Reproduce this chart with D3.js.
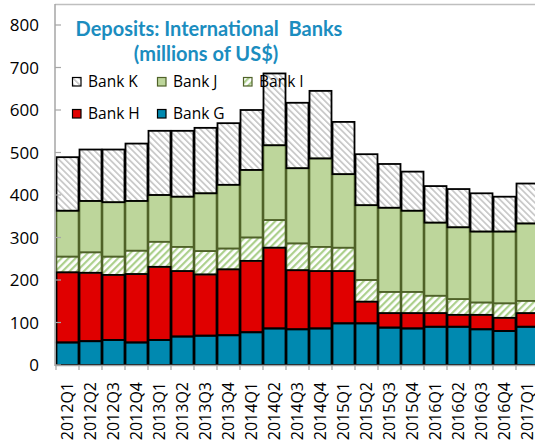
<!DOCTYPE html>
<html>
<head>
<meta charset="utf-8">
<script src="https://cdn.jsdelivr.net/npm/d3@7"></script>
<style>
html,body{margin:0;padding:0;background:#fff;}
svg{display:block;}
</style>
</head>
<body>
<svg id="chart" width="535" height="443"></svg>
<script>
const quarters = ["2012Q1","2012Q2","2012Q3","2012Q4","2013Q1","2013Q2","2013Q3","2013Q4",
  "2014Q1","2014Q2","2014Q3","2014Q4","2015Q1","2015Q2","2015Q3","2015Q4",
  "2016Q1","2016Q2","2016Q3","2016Q4","2017Q1"];
const bankG = [53,56,59,53,59,67,69,70,77,86,84,86,98,98,88,86,90,90,84,80,90];
const bankH = [165,161,153,161,172,154,144,155,168,190,139,135,123,51,34,36,32,28,34,31,32];
const bankI = [37,48,43,55,59,57,55,49,55,65,63,57,55,51,50,50,41,37,29,34,29];
const bankJ = [108,121,128,117,110,118,136,150,159,176,177,208,173,176,198,191,172,169,167,169,182];
const bankK = [126,121,124,135,151,155,154,145,141,169,154,159,123,120,103,92,86,90,90,82,94];
const yTicks = [0,100,200,300,400,500,600,700,800];
const seriesNames = ["Bank G","Bank H","Bank I","Bank J","Bank K"];

const svg = d3.select("#chart");
const defs = svg.append("defs");
function hatch(id, color, dir, w, sw){
  const p = defs.append("pattern").attr("id", id).attr("patternUnits","userSpaceOnUse")
    .attr("width",w).attr("height",w)
    .attr("patternTransform", "rotate(" + dir + ")");
  p.append("rect").attr("width",w).attr("height",w).attr("fill","#fff");
  p.append("rect").attr("x",0).attr("y",0).attr("width",sw).attr("height",w).attr("fill",color);
}
hatch("hatchK", "#c4c4c4", -45, 4.5, 1.6);
hatch("hatchI", "#acd08c", 45, 5, 2.2);

const styles = {
  "Bank G": {fill:"#0089b0", stroke:"#000"},
  "Bank H": {fill:"#e00000", stroke:"#000"},
  "Bank I": {fill:"url(#hatchI)", stroke:"#4f6228"},
  "Bank J": {fill:"#bdd69b", stroke:"#4f6228"},
  "Bank K": {fill:"url(#hatchK)", stroke:"#000"}
};

const rows = quarters.map((q,i)=>({q, "Bank G":bankG[i], "Bank H":bankH[i], "Bank I":bankI[i], "Bank J":bankJ[i], "Bank K":bankK[i]}));
const stacked = d3.stack().keys(seriesNames)(rows);

const x = d3.scaleBand().domain(quarters).range([56, 56 + 21*23]).padding(0);
const y = d3.scaleLinear().domain([0,800]).range([365,25]);

// frame top line
svg.append("line").attr("x1",55).attr("x2",535).attr("y1",4.5).attr("y2",4.5)
  .attr("stroke","#bfbfbf").attr("stroke-width",1.5);

// fills
const layers = svg.append("g");
stacked.forEach(s=>{
  layers.append("g").selectAll("rect").data(s).join("rect")
    .attr("x", d=>x(d.data.q)+0.5)
    .attr("y", d=>y(d[1]))
    .attr("width", x.bandwidth()-1)
    .attr("height", d=>y(d[0])-y(d[1]))
    .attr("fill", styles[s.key].fill);
});
// strokes: green first, then black
const strokeOrder = ["Bank I","Bank J","Bank G","Bank H","Bank K"];
strokeOrder.forEach(k=>{
  const s = stacked.find(t=>t.key===k);
  layers.append("g").selectAll("rect").data(s).join("rect")
    .attr("x", d=>x(d.data.q)+0.5)
    .attr("y", d=>y(d[1]))
    .attr("width", x.bandwidth()-1)
    .attr("height", d=>y(d[0])-y(d[1]))
    .attr("fill", "none")
    .attr("stroke", styles[k].stroke)
    .attr("stroke-width", k==="Bank I"||k==="Bank J" ? 1.6 : 1.8);
});

// y axis
const yAxis = svg.append("g");
yAxis.append("line").attr("x1",55).attr("x2",55).attr("y1",4).attr("y2",366)
  .attr("stroke","#a6a6a6").attr("stroke-width",1.5);
yAxis.selectAll("line.tk").data(yTicks).join("line").attr("class","tk")
  .attr("x1",55).attr("x2",61).attr("y1",d=>y(d)).attr("y2",d=>y(d))
  .attr("stroke","#a6a6a6").attr("stroke-width",1.2);
yAxis.selectAll("text").data(yTicks).join("text")
  .attr("x",39).attr("y",d=>y(d)).attr("dy","0.36em")
  .attr("text-anchor","end")
  .attr("font-family","Open Sans, sans-serif").attr("font-size",17).attr("fill","#000")
  .text(d=>d);

// x axis
const xAxis = svg.append("g");
xAxis.append("line").attr("x1",55).attr("x2",535).attr("y1",365.5).attr("y2",365.5)
  .attr("stroke","#a6a6a6").attr("stroke-width",1.5);
xAxis.selectAll("line.tk").data(quarters).join("line").attr("class","tk")
  .attr("x1",d=>x(d)).attr("x2",d=>x(d)).attr("y1",365).attr("y2",370)
  .attr("stroke","#a6a6a6").attr("stroke-width",1.2);
xAxis.selectAll("text").data(quarters).join("text")
  .attr("transform", d=>"translate(" + (x(d)+x.bandwidth()/2) + ",382) rotate(-90)")
  .attr("text-anchor","end").attr("dy","0.36em")
  .attr("font-family","Open Sans, sans-serif").attr("font-size",16).attr("fill","#000")
  .text(d=>d);

// title
const title = svg.append("g").attr("font-family","Lato, sans-serif").attr("font-weight","bold")
  .attr("font-size",20).attr("fill","#1b8dbf").attr("text-anchor","middle");
title.append("text").attr("x",209).attr("y",36).attr("xml:space","preserve").text("Deposits: International  Banks");
title.append("text").attr("x",206).attr("y",61).text("(millions of US$)");

// legend
const legendItems = [
  {k:"Bank K", x:72, y:77},
  {k:"Bank J", x:157, y:77},
  {k:"Bank I", x:243, y:77},
  {k:"Bank H", x:72, y:109},
  {k:"Bank G", x:157, y:109}
];
const lg = svg.append("g");
legendItems.forEach(it=>{
  lg.append("rect").attr("x",it.x+0.5).attr("y",it.y+0.5).attr("width",8.5).attr("height",8.5)
    .attr("fill", styles[it.k].fill).attr("stroke", it.k==="Bank J"||it.k==="Bank I" ? "#4f6228" : "#000").attr("stroke-width",1.2);
  lg.append("text").attr("x",it.x+16).attr("y",it.y+4.5).attr("dy","0.36em")
    .attr("font-family","Open Sans, sans-serif").attr("font-size",15.5).attr("fill","#000")
    .text(it.k);
});
</script>
</body>
</html>
